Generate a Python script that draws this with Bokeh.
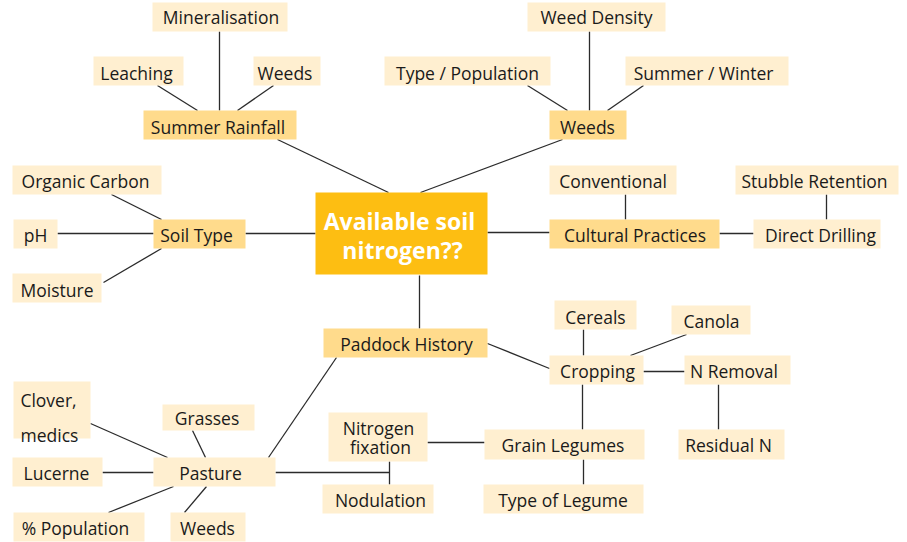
from bokeh.plotting import figure
from bokeh.models import Range1d, ColumnDataSource
from bokeh.core.properties import value
from bokeh.embed import file_html
from bokeh.resources import INLINE

# ---- content ----
labels = ["Available soil nitrogen??",
          "Summer Rainfall", "Mineralisation", "Leaching", "Weeds",
          "Weeds", "Type / Population", "Weed Density", "Summer / Winter",
          "Soil Type", "Organic Carbon", "pH", "Moisture",
          "Cultural Practices", "Conventional", "Direct Drilling", "Stubble Retention",
          "Paddock History", "Cropping", "Cereals", "Canola", "N Removal", "Residual N",
          "Grain Legumes", "Type of Legume", "Nitrogen fixation", "Nodulation",
          "Pasture", "Clover, medics", "Grasses", "Lucerne", "% Population", "Weeds"]
levels = [0,
          1, 2, 2, 2,
          1, 2, 2, 2,
          1, 2, 2, 2,
          1, 2, 2, 2,
          1, 2, 2, 2, 2, 2,
          2, 2, 2, 2,
          2, 2, 2, 2, 2, 2]

# ---- layout (pixel coordinates of the diagram) ----
box_l = [315, 143, 152, 93, 253, 549, 384, 527, 625, 153, 12, 13, 12, 549, 549, 753, 735,
         323, 549, 554, 671, 684, 678, 484, 483, 328, 322, 153, 13, 162, 12, 13, 170]
box_r = [487, 296, 287, 183, 320, 626, 550, 665, 788, 245, 161, 57, 101, 719, 676, 880, 898,
         487, 643, 636, 750, 790, 784, 644, 643, 427, 433, 275, 90, 254, 102, 144, 245]
box_t = [192, 110, 2, 56, 56, 110, 56, 2, 56, 219, 165, 219, 273, 219, 165, 219, 165,
         328, 355, 300, 305, 355, 429, 429, 484, 412, 484, 457, 381, 404, 457, 512, 512]
box_b = [274, 139, 31, 85, 85, 139, 85, 31, 85, 248, 194, 248, 302, 248, 194, 248, 194,
         357, 384, 329, 334, 384, 459, 459, 513, 461, 513, 486, 438, 430, 486, 541, 541]

# text lines: (text, x, y, node index)
text_items = [
    ("Available soil", 399, 220, 0), ("nitrogen??", 402, 249, 0),
    ("Summer Rainfall", 217.5, 126, 1), ("Mineralisation", 220.5, 16, 2),
    ("Leaching", 136, 72, 3), ("Weeds", 284.5, 72, 4),
    ("Weeds", 587, 126, 5), ("Type / Population", 467, 72, 6),
    ("Weed Density", 596, 16, 7), ("Summer / Winter", 703, 72, 8),
    ("Soil Type", 196, 234, 9), ("Organic Carbon", 85, 180, 10),
    ("pH", 35, 234, 11), ("Moisture", 56.5, 289, 12),
    ("Cultural Practices", 634.5, 234, 13), ("Conventional", 612.5, 180, 14),
    ("Direct Drilling", 820, 234, 15), ("Stubble Retention", 814, 180, 16),
    ("Paddock History", 406, 343, 17), ("Cropping", 597, 370, 18),
    ("Cereals", 595, 316, 19), ("Canola", 711, 320, 20),
    ("N Removal", 733.5, 370, 21), ("Residual N", 728, 444, 22),
    ("Grain Legumes", 562.5, 444, 23), ("Type of Legume", 562.5, 499, 24),
    ("Nitrogen", 378, 427, 25), ("fixation", 380, 446, 25),
    ("Nodulation", 380, 499, 26), ("Pasture", 210, 472, 27),
    ("Clover,", 48, 399, 28), ("medics", 49, 434, 28),
    ("Grasses", 206.5, 417, 29), ("Lucerne", 56, 472, 30),
    ("% Population", 75, 527, 31), ("Weeds", 207, 527, 32),
]

# connectors
seg_x0 = [219, 157, 273, 277, 562, 527, 589, 643, 625, 826, 719, 487, 245, 57, 111, 103,
          419, 90, 192, 102, 108, 184, 268, 275, 389, 427, 487, 583, 686, 643, 718, 582, 583]
seg_y0 = [31, 85, 85, 139, 139, 85, 31, 85, 194, 194, 233, 232, 233, 233, 194, 282,
          275, 423, 430, 472, 512, 512, 457, 472, 461, 442, 343, 329, 334, 371, 384, 384, 459]
seg_x1 = [219, 197, 237, 388, 420, 567, 589, 607, 625, 826, 753, 549, 315, 153, 161, 161,
          419, 167, 205, 153, 173, 206, 336, 389, 389, 484, 549, 583, 630, 684, 718, 582, 583]
seg_y1 = [110, 110, 110, 192, 192, 110, 110, 110, 219, 219, 233, 232, 233, 233, 219, 248,
          328, 457, 457, 472, 486, 486, 357, 472, 484, 442, 368, 355, 355, 371, 429, 429, 484]

fill_by_level = {0: "#FDBE12", 1: "#FFDB8C", 2: "#FFEFD0"}
box_fill = [fill_by_level[l] for l in levels]

p = figure(width=907, height=542, output_backend="svg", toolbar_location=None,
           x_range=Range1d(0, 907), y_range=Range1d(542, 0),
           min_border=0, outline_line_color=None)
p.axis.visible = False
p.grid.visible = False
p.background_fill_color = "white"

p.segment(x0=seg_x0, y0=seg_y0, x1=seg_x1, y1=seg_y1, line_color="#2b2b2b", line_width=1.3)

p.quad(left=box_l, right=box_r, top=box_t, bottom=box_b, fill_color=box_fill, line_color=None)

t_src = ColumnDataSource(dict(
    text=[t[0] for t in text_items if t[3] != 0],
    x=[t[1] for t in text_items if t[3] != 0],
    y=[t[2] for t in text_items if t[3] != 0],
))
p.text(x="x", y="y", text="text", source=t_src, text_font=value("Open Sans"),
       text_font_size="17.5px", text_color="#1a1a1a", text_align="center", text_baseline="middle")

c_src = ColumnDataSource(dict(
    text=[t[0] for t in text_items if t[3] == 0],
    x=[t[1] for t in text_items if t[3] == 0],
    y=[t[2] for t in text_items if t[3] == 0],
))
p.text(x="x", y="y", text="text", source=c_src, text_font=value("Open Sans"),
       text_font_size="23px", text_font_style="bold", text_color="white",
       text_align="center", text_baseline="middle")

open("out.html", "w").write(file_html(p, INLINE))
